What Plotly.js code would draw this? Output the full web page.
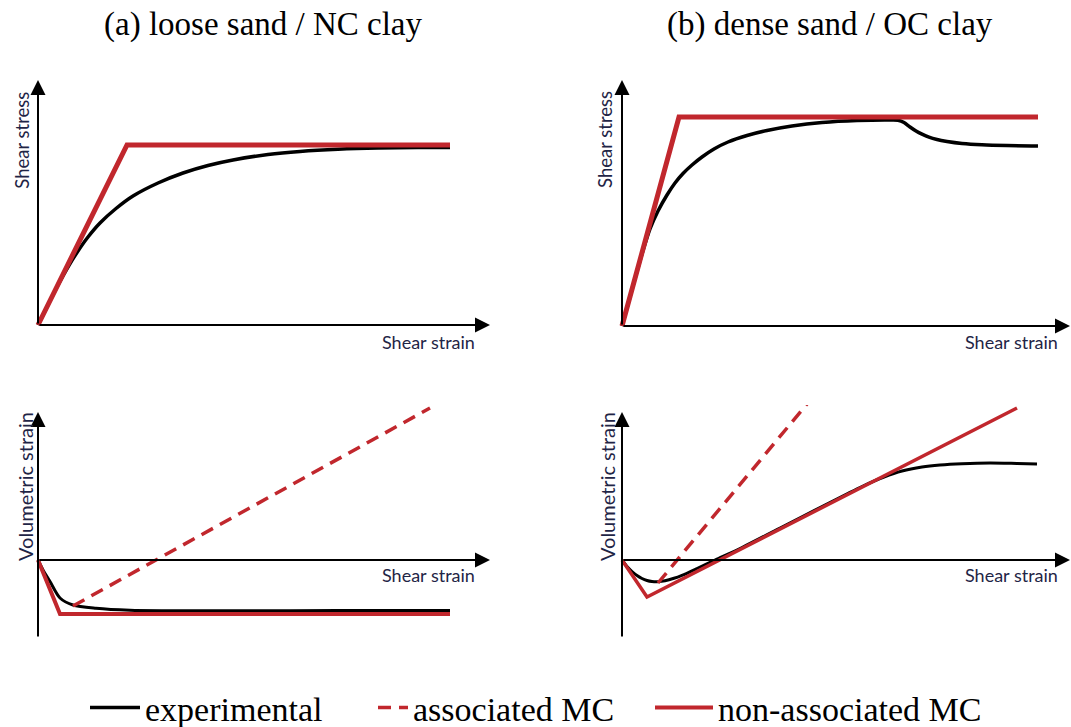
<!DOCTYPE html>
<html>
<head>
<meta charset="utf-8">
<script src="https://cdn.plot.ly/plotly-3.0.1.min.js"></script>
<style>html,body{margin:0;padding:0;background:#fff;overflow:hidden;}#chart{width:1071px;height:727px;}</style>
</head>
<body>
<div id="chart"></div>
<script>
// ---- Data (arbitrary units, origin of each panel at 0,0) ----
// (a) loose sand / NC clay : shear stress vs shear strain
const strainA = [0, 10, 20, 30, 40, 50, 62, 78, 95, 120, 145, 170, 195, 230, 262, 300, 340, 380, 412];
const stressA_exp = [0, 20.3, 40, 58, 74, 88, 102, 116.5, 129, 142, 152, 159.5, 165, 170.5, 173.6, 175.8, 177, 177.4, 177.5];
const strainA_mc = [0, 89, 412];
const stressA_mc = [0, 180, 180];

// (b) dense sand / OC clay : shear stress vs shear strain
const strainB = [0, 10, 20, 28, 36, 45, 53, 61, 70, 80, 92, 106, 125, 145, 170, 200, 235, 270, 276, 282, 288, 294, 300, 307, 315, 325, 340, 360, 385, 416];
const stressB_exp = [0, 36.5, 72, 97, 115, 131, 143, 152.5, 161, 169, 177, 184, 190.5, 195.5, 200, 203.5, 205.5, 206, 205.7, 203.5, 199, 195, 191.8, 188.8, 186.5, 184.6, 182.6, 181.2, 180.4, 180];
const strainB_mc = [0, 57, 416];
const stressB_mc = [0, 209, 209];

// (a) volumetric strain vs shear strain
const strainAv = [0, 5, 12, 22, 35, 58, 92, 130, 200, 300, 412];
const volA_exp = [0, -10, -21.5, -38, -45, -48.3, -50.3, -50.7, -50.7, -50.6, -50.5];
const strainAv_ass = [35, 392];
const volA_ass = [-46, 152];
const strainAv_non = [0, 22, 412];
const volA_non = [0, -54, -54];

// (b) volumetric strain vs shear strain
const strainBv = [0, 5, 10, 15, 20, 25, 30, 36, 43, 52, 60, 75, 93, 120, 160, 200, 240, 262, 280, 300, 318, 340, 368, 395, 415];
const volB_exp = [0, -6.5, -11.5, -15.5, -18.5, -20.5, -21.5, -21.7, -20.8, -18.3, -15.3, -8.5, 0, 12.5, 33, 53.5, 73.5, 83, 89, 93, 95, 96.3, 97, 96.5, 96];
const strainBv_ass = [36, 195];
const volB_ass = [-23, 168];
const strainBv_non = [0, 25, 395];
const volB_non = [0, -37, 152];

// ---- Labels ----
const panelTitles = ['(a) loose sand / NC clay', '(b) dense sand / OC clay'];
const seriesNames = ['experimental', 'associated MC', 'non-associated MC'];
const stressLabel = 'Shear stress';
const volLabel = 'Volumetric strain';
const strainLabel = 'Shear strain';

// ---- Styling ----
const W = 1071, H = 727;
const RED = '#c1272d';
const BLACK = '#000000';
const LABEL = '#1f2546';
const SERIF = 'Liberation Serif';

function px(x) { return x / W; }
function py(y) { return 1 - y / H; }

function exp(x, y, xa, ya, w, show) {
  return {x: x, y: y, xaxis: xa, yaxis: ya, type: 'scatter', mode: 'lines',
    name: seriesNames[0], legend: 'legend', showlegend: !!show,
    line: {color: BLACK, width: w, shape: 'spline', smoothing: 0.8}, hoverinfo: 'skip'};
}
function ass(x, y, xa, ya, show) {
  return {x: x, y: y, xaxis: xa, yaxis: ya, type: 'scatter', mode: 'lines',
    name: seriesNames[1], legend: 'legend2', showlegend: !!show,
    line: {color: RED, width: 3.5, dash: '13px,8px'}, hoverinfo: 'skip'};
}
function non(x, y, xa, ya, w, show) {
  return {x: x, y: y, xaxis: xa, yaxis: ya, type: 'scatter', mode: 'lines',
    name: seriesNames[2], legend: 'legend3', showlegend: !!show,
    line: {color: RED, width: w}, hoverinfo: 'skip'};
}

const data = [
  exp(strainA, stressA_exp, 'x', 'y', 3.5, true),
  non(strainA_mc, stressA_mc, 'x', 'y', 5, false),
  exp(strainB, stressB_exp, 'x2', 'y2', 3.5, false),
  non(strainB_mc, stressB_mc, 'x2', 'y2', 5, false),
  exp(strainAv, volA_exp, 'x3', 'y3', 3, false),
  ass(strainAv_ass, volA_ass, 'x3', 'y3', true),
  non(strainAv_non, volA_non, 'x3', 'y3', 4, true),
  exp(strainBv, volB_exp, 'x4', 'y4', 3, false),
  ass(strainBv_ass, volB_ass, 'x4', 'y4', false),
  non(strainBv_non, volB_non, 'x4', 'y4', 3.5, false)
];

function ax(domPx, range) {
  return {domain: [px(domPx[0]), px(domPx[1])], range: range, visible: false, fixedrange: true};
}
function ay(domPy, range) {
  return {domain: [py(domPy[0]), py(domPy[1])], range: range, visible: false, fixedrange: true};
}

function arrow(xr, yr, x0, y0, x1, y1) {
  return {xref: xr, yref: yr, axref: xr, ayref: yr, x: x1, y: y1, ax: x0, ay: y0,
    showarrow: true, arrowhead: 2, arrowsize: 1.5, arrowwidth: 2, arrowcolor: '#000', text: '', standoff: 0};
}
function label(text, x, y, angle, anchor, size) {
  return {xref: 'paper', yref: 'paper', x: px(x), y: py(y), text: text, showarrow: false,
    textangle: angle || 0, xanchor: anchor || 'center', yanchor: 'middle',
    font: {family: 'Lato', size: size || 18, color: LABEL}};
}
function title(text, x, y) {
  return {xref: 'paper', yref: 'paper', x: px(x), y: py(y), text: text, showarrow: false,
    xanchor: 'center', yanchor: 'middle',
    font: {family: SERIF, size: 33, color: '#000'}};
}

function leg(xPx, iw) {
  return {x: px(xPx), y: py(708), xanchor: 'left', yanchor: 'middle', orientation: 'h',
    bgcolor: 'rgba(0,0,0,0)', borderwidth: 0, itemwidth: iw,
    font: {family: SERIF, size: 34, color: '#000'}};
}

const layout = {
  width: W, height: H,
  margin: {l: 0, r: 0, t: 0, b: 0, pad: 0, autoexpand: false},
  font: {family: SERIF, size: 34, color: '#000'},
  paper_bgcolor: '#fff', plot_bgcolor: 'rgba(0,0,0,0)',
  showlegend: true,
  xaxis: ax([33, 495], [-5, 457]),
  yaxis: ay([330, 75], [-5, 250]),
  xaxis2: ax([617, 1071], [-5, 449]),
  yaxis2: ay([331, 76], [-5, 250]),
  xaxis3: ax([33, 495], [-5, 457]),
  yaxis3: ay([640, 405], [-80, 155]),
  xaxis4: ax([617, 1071], [-5, 449]),
  yaxis4: ay([640, 405], [-80, 155]),
  legend: leg(85, 50),
  legend2: leg(373, 30),
  legend3: leg(650, 58),
  annotations: [
    arrow('x', 'y', 0, 0, 452, 0),
    arrow('x', 'y', 0, 0, 0, 245),
    arrow('x2', 'y2', 0, 0, 448, 0),
    arrow('x2', 'y2', 0, 0, 0, 246),
    arrow('x3', 'y3', 0, 0, 452, 0),
    arrow('x3', 'y3', 0, -78, 0, 148),
    arrow('x4', 'y4', 0, 0, 448, 0),
    arrow('x4', 'y4', 0, -78, 0, 148),
    title(panelTitles[0], 262.5, 24),
    title(panelTitles[1], 830, 24),
    label(stressLabel, 21.7, 140, -90, 'center', 18.5),
    label(stressLabel, 605, 140, -90, 'center', 18.5),
    label(volLabel, 25, 487, -90, 'center', 20),
    label(volLabel, 607, 487, -90, 'center', 20),
    label(strainLabel, 477, 341.7, 0, 'right'),
    label(strainLabel, 1060, 341.7, 0, 'right'),
    label(strainLabel, 477, 575, 0, 'right'),
    label(strainLabel, 1060, 575, 0, 'right')
  ]
};

Plotly.newPlot('chart', data, layout, {displayModeBar: false, staticPlot: true});
</script>
</body>
</html>
